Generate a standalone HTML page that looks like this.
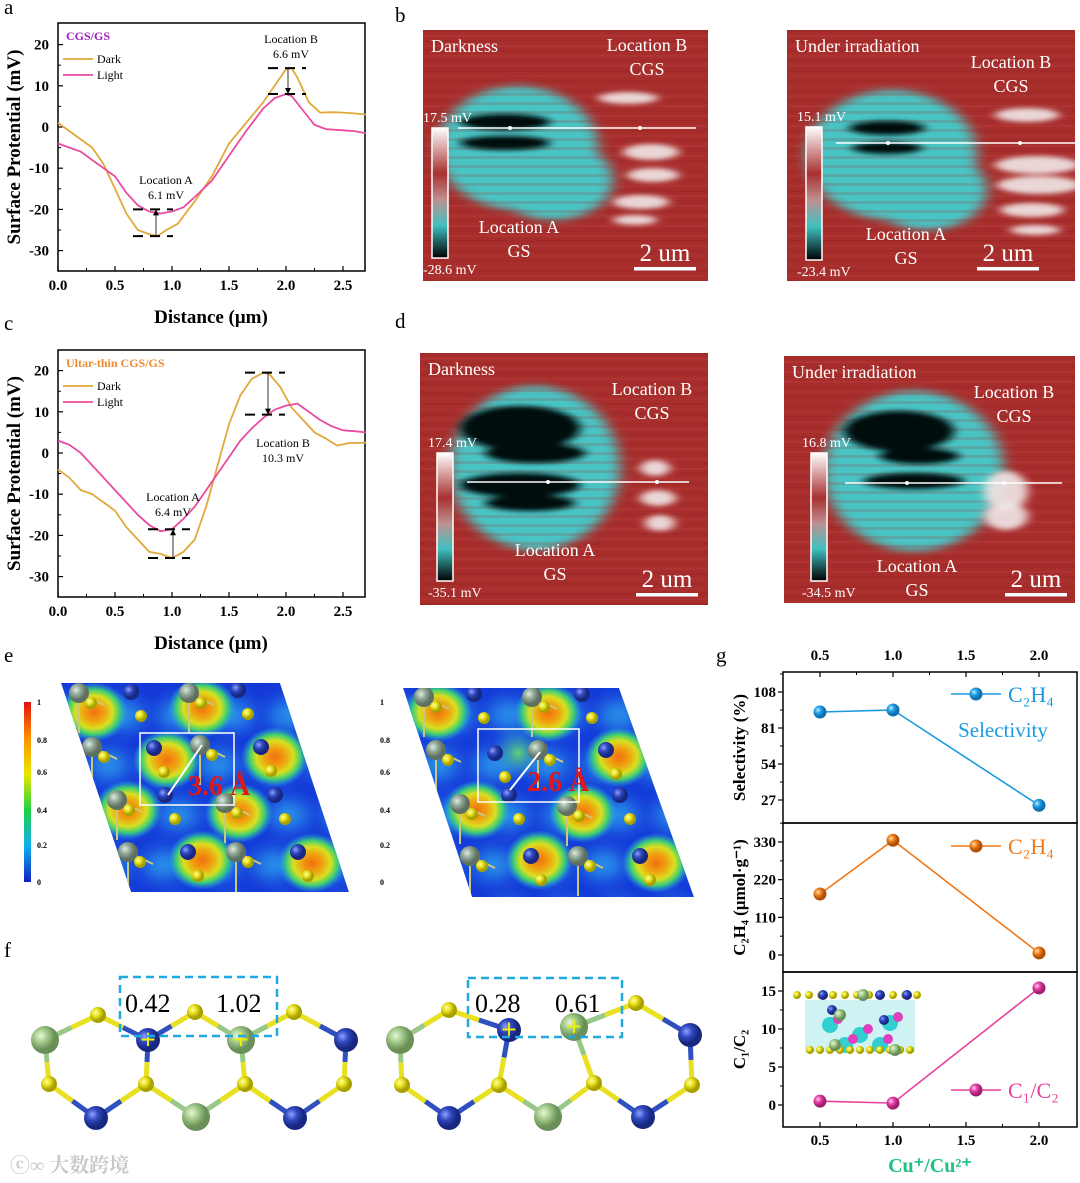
<!DOCTYPE html>
<html><head><meta charset="utf-8">
<style>
html,body{margin:0;padding:0;background:#fff;}
svg{display:block;}
text{font-family:"Liberation Serif","Noto Serif CJK SC",serif;}
</style></head>
<body>
<svg id="fig" width="1080" height="1183" viewBox="0 0 1080 1183" xmlns="http://www.w3.org/2000/svg">
<defs>
  <filter id="blur6" x="-30%" y="-30%" width="160%" height="160%"><feGaussianBlur stdDeviation="7 4"/></filter>
  <filter id="blur3" x="-30%" y="-30%" width="160%" height="160%"><feGaussianBlur stdDeviation="5 2.5"/></filter>
  <filter id="blurE" x="-50%" y="-50%" width="200%" height="200%"><feGaussianBlur stdDeviation="9"/></filter>
  <linearGradient id="afmBar" x1="0" y1="0" x2="0" y2="1">
    <stop offset="0" stop-color="#ffffff"/><stop offset="0.35" stop-color="#a83030"/>
    <stop offset="0.55" stop-color="#c09090"/><stop offset="0.75" stop-color="#40c0c0"/>
    <stop offset="1" stop-color="#000000"/>
  </linearGradient>
  <linearGradient id="jetBar" x1="0" y1="0" x2="0" y2="1">
    <stop offset="0" stop-color="#e01010"/><stop offset="0.2" stop-color="#ff9000"/>
    <stop offset="0.4" stop-color="#e8e800"/><stop offset="0.6" stop-color="#20d040"/>
    <stop offset="0.8" stop-color="#10b0f0"/><stop offset="1" stop-color="#1020c0"/>
  </linearGradient>
  <radialGradient id="hot"><stop offset="0" stop-color="#f07010"/><stop offset="0.3" stop-color="#f0a010"/>
    <stop offset="0.55" stop-color="#d8e020"/><stop offset="0.75" stop-color="#40d070"/>
    <stop offset="1" stop-color="#20a0f0" stop-opacity="0"/></radialGradient>
  <radialGradient id="warm"><stop offset="0" stop-color="#60d070"/><stop offset="1" stop-color="#20a0f0" stop-opacity="0"/></radialGradient>
  <radialGradient id="ballB" cx="0.35" cy="0.35"><stop offset="0" stop-color="#8ea0ff"/><stop offset="0.5" stop-color="#3048c0"/><stop offset="1" stop-color="#182880"/></radialGradient>
  <radialGradient id="ballG" cx="0.35" cy="0.35"><stop offset="0" stop-color="#e8f8d8"/><stop offset="0.5" stop-color="#a0c888"/><stop offset="1" stop-color="#6a9058"/></radialGradient>
  <radialGradient id="ballGr" cx="0.35" cy="0.35"><stop offset="0" stop-color="#e0ece0"/><stop offset="0.5" stop-color="#90a898"/><stop offset="1" stop-color="#607060"/></radialGradient>
  <radialGradient id="ballY" cx="0.35" cy="0.35"><stop offset="0" stop-color="#ffffa0"/><stop offset="0.5" stop-color="#e8e020"/><stop offset="1" stop-color="#a8a000"/></radialGradient>
  <radialGradient id="mkBlue" cx="0.35" cy="0.35"><stop offset="0" stop-color="#c8ecff"/><stop offset="0.5" stop-color="#20a0e8"/><stop offset="1" stop-color="#1070b0"/></radialGradient>
  <radialGradient id="mkOrange" cx="0.35" cy="0.35"><stop offset="0" stop-color="#ffe0b0"/><stop offset="0.5" stop-color="#f08018"/><stop offset="1" stop-color="#b05008"/></radialGradient>
  <radialGradient id="mkPink" cx="0.35" cy="0.35"><stop offset="0" stop-color="#ffd0f0"/><stop offset="0.5" stop-color="#e840a8"/><stop offset="1" stop-color="#a02070"/></radialGradient>
</defs>
<g id="root"></g>
</svg>
<script>
// ===== Panel a / c data (Distance µm, Surface potential mV) =====
const aDarkX  = [0,0.1,0.2,0.3,0.4,0.5,0.6,0.7,0.8,0.87,0.95,1.05,1.2,1.35,1.5,1.65,1.8,1.9,2.0,2.05,2.1,2.2,2.3,2.4,2.5,2.6,2.7];
const aDarkY  = [1,-1,-3,-5,-9,-15,-21,-25,-26,-26.5,-25,-23.5,-18,-12,-4,1,6,10,14,14.3,12,6,3.5,3.6,3.5,3.3,3];
const aLightX = [0,0.1,0.2,0.3,0.4,0.5,0.6,0.7,0.8,0.9,1.0,1.1,1.2,1.35,1.5,1.65,1.8,1.9,2.0,2.05,2.15,2.25,2.35,2.5,2.6,2.7];
const aLightY = [-4,-5,-6,-8,-10,-12,-16,-19,-20.5,-21,-20.5,-19.5,-17,-13,-7,-1,4.5,7,8,7.5,4,0.5,-0.5,-0.8,-1,-1.5];
const cDarkX  = [0,0.1,0.2,0.3,0.4,0.5,0.6,0.7,0.8,0.9,1.0,1.1,1.2,1.3,1.4,1.5,1.6,1.7,1.8,1.85,1.95,2.05,2.15,2.25,2.35,2.45,2.55,2.7];
const cDarkY  = [-4,-6,-9,-10,-12,-14,-18,-21,-24,-24.5,-25.5,-24,-21,-13,-3,7,14,18,19.5,19.3,16,11,8,5,3.5,1.8,2.4,2.5];
const cLightX = [0,0.1,0.2,0.3,0.4,0.5,0.6,0.7,0.8,0.9,1.0,1.1,1.2,1.3,1.4,1.5,1.6,1.7,1.8,1.9,2.0,2.1,2.2,2.3,2.4,2.5,2.6,2.7];
const cLightY = [3,2,0,-3,-6,-9,-12,-15,-17.5,-19,-18.5,-16,-13,-9,-5,-1,3,6,8.5,10.5,11.5,12,10,8,6.5,5.5,5.3,5];
const xTicksAC = [0.0,0.5,1.0,1.5,2.0,2.5];
const yTicksAC = [20,10,0,-10,-20,-30];
// ===== Panel g data =====
const gRatio = [0.5,1.0,2.0];
const gSelectivity = [93,94.5,23];
const gYield = [178,335,6];
const gC1C2 = [0.5,0.25,15.4];
const gXTicks = [0.5,1.0,1.5,2.0];
const gSelTicks = [27,54,81,108];
const gYieldTicks = [0,110,220,330];
const gC1Ticks = [0,5,10,15];

const NS="http://www.w3.org/2000/svg";
const root=document.getElementById('root');
function el(tag,attrs,parent,txt){const e=document.createElementNS(NS,tag);for(const k in attrs)e.setAttribute(k,attrs[k]);if(txt!==undefined)e.textContent=txt;(parent||root).appendChild(e);return e;}
function grp(name,parent){const g=el('g',{},parent);return g;}
function txt(parent,x,y,s,size,opts){opts=opts||{};const t=el('text',{x:x,y:y,'font-size':size,fill:opts.fill||'#000','text-anchor':opts.anchor||'start','font-weight':opts.bold?'bold':'normal'},parent,s);if(opts.transform)t.setAttribute('transform',opts.transform);return t;}

// panel letters
[['a',4,14],['b',395,22],['c',4,330],['d',395,328],['e',4,662],['f',4,957],['g',716,662]].forEach(p=>{
  const t=txt(root,p[1],p[2],p[0],21);
  
  
});

// ===== line charts a and c =====
function lineChart(name,top,bottom,zeroY,series,legendTitle,legendColor,ann){
  const g=grp(name);
  const L=58,R=365;
  const xs=v=>L+v*114;
  const ys=v=>zeroY-v*4.12;
  el('rect',{x:L,y:top,width:R-L,height:bottom-top,fill:'none',stroke:'#000','stroke-width':1.5},g);
  xTicksAC.forEach(v=>{el('line',{x1:xs(v),y1:bottom,x2:xs(v),y2:bottom-5,stroke:'#000','stroke-width':1.2},g);
    txt(g,xs(v),bottom+19,v.toFixed(1),15,{anchor:'middle',bold:true});});
  [0.25,0.75,1.25,1.75,2.25].forEach(v=>el('line',{x1:xs(v),y1:bottom,x2:xs(v),y2:bottom-3,stroke:'#000'},g));
  yTicksAC.forEach(v=>{el('line',{x1:L,y1:ys(v),x2:L+5,y2:ys(v),stroke:'#000','stroke-width':1.2},g);
    txt(g,49,ys(v)+5,String(v),15,{anchor:'end',bold:true});});
  [15,5,-5,-15,-25].forEach(v=>el('line',{x1:L,y1:ys(v),x2:L+3,y2:ys(v),stroke:'#000'},g));
  const yt=txt(g,20,(top+bottom)/2,'Surface Protential (mV)',19,{anchor:'middle',bold:true,transform:`rotate(-90 20 ${(top+bottom)/2})`});
  
  const xt=txt(g,211,bottom+52,'Distance (μm)',19,{anchor:'middle',bold:true});
  
  series.forEach(s=>{
    const d=s.x.map((v,i)=>(i?'L':'M')+xs(v).toFixed(1)+' '+ys(s.y[i]).toFixed(1)).join(' ');
    const p=el('path',{d:d,fill:'none',stroke:s.color,'stroke-width':1.8,'stroke-linejoin':'round'},g);
    
  });
  txt(g,L+8,top+17,legendTitle,12,{bold:true,fill:legendColor});
  series.forEach((s,i)=>{const yy=top+36+i*16;
    el('line',{x1:L+5,y1:yy,x2:L+35,y2:yy,stroke:s.color,'stroke-width':1.8},g);
    txt(g,L+39,yy+4,s.label,12);});
  ann.forEach(a=>{
    [a.v1,a.v2].forEach(v=>el('line',{x1:a.x1,y1:ys(v),x2:a.x2,y2:ys(v),stroke:'#000','stroke-width':2,'stroke-dasharray':'10 7'},g));
    el('line',{x1:a.ax,y1:ys(a.from),x2:a.ax,y2:ys(a.to),stroke:'#000','stroke-width':0.8},g);
    const dir=ys(a.to)>ys(a.from)?-1:1;
    el('path',{d:`M${a.ax-3} ${ys(a.to)+dir*6} L${a.ax} ${ys(a.to)} L${a.ax+3} ${ys(a.to)+dir*6}Z`,fill:'#000'},g);
    txt(g,a.tx,a.ty,a.t1,12,{anchor:'middle'});txt(g,a.tx,a.ty+15,a.t2,12,{anchor:'middle'});
  });
}
lineChart('chart-a',23,271,127,[
  {x:aDarkX,y:aDarkY,color:'#e2a83a',label:'Dark',name:'dark-line'},
  {x:aLightX,y:aLightY,color:'#ea4aa0',label:'Light',name:'light-line'}],'CGS/GS','#a020c0',
  [{v1:-20,v2:-26.5,x1:133,x2:173,ax:156,from:-26.5,to:-20,tx:166,ty:184,t1:'Location A',t2:'6.1 mV'},
   {v1:14.3,v2:8,x1:268,x2:306,ax:288,from:14.3,to:8,tx:291,ty:43,t1:'Location B',t2:'6.6 mV'}]);
lineChart('chart-c',350,597,453,[
  {x:cDarkX,y:cDarkY,color:'#e2a83a',label:'Dark',name:'dark-line'},
  {x:cLightX,y:cLightY,color:'#ea4aa0',label:'Light',name:'light-line'}],'Ultar-thin CGS/GS','#f08a30',
  [{v1:-18.5,v2:-25.5,x1:148,x2:190,ax:173,from:-25.5,to:-18.5,tx:173,ty:501,t1:'Location A',t2:'6.4 mV'},
   {v1:19.5,v2:9.3,x1:245,x2:285,ax:268,from:19.5,to:9.3,tx:283,ty:447,t1:'Location B',t2:'10.3 mV'}]);

// ===== AFM images =====
let clipId=0;
function afm(name,o){
  const g=grp(name);
  const id='clip'+(clipId++);
  const cp=el('clipPath',{id:id},g);el('rect',{x:o.x,y:o.y,width:o.w,height:o.h},cp);
  const inner=el('g',{'clip-path':`url(#${id})`},g);
  el('rect',{x:o.x,y:o.y,width:o.w,height:o.h,fill:'#a82e2c'},inner);
  for(let i=0;i<o.h;i+=5){el('rect',{x:o.x,y:o.y+i,width:o.w,height:2,fill:(i%10?'#b84040':'#982626'),opacity:0.35},inner);}
  const b=el('g',{filter:'url(#blur6)'},inner);
  o.cyan.forEach(c=>el('ellipse',{cx:o.x+c[0],cy:o.y+c[1],rx:c[2],ry:c[3],fill:'#48c4c4'},b));
  for(let i=0;i<o.h;i+=9){el('rect',{x:o.x,y:o.y+i,width:o.w,height:3,fill:'#a82e2c',opacity:0.18},inner);}
  const d=el('g',{filter:'url(#blur3)'},inner);
  o.dark.forEach(c=>el('ellipse',{cx:o.x+c[0],cy:o.y+c[1],rx:c[2],ry:c[3],fill:'#061010'},d));
  o.white.forEach(c=>el('ellipse',{cx:o.x+c[0],cy:o.y+c[1],rx:c[2],ry:c[3],fill:'#f0e4e4',opacity:0.92},d));
  el('line',{x1:o.lx1,y1:o.ly,x2:o.lx2,y2:o.ly,stroke:'#fff','stroke-width':1.6},g);
  o.dots.forEach(x=>el('circle',{cx:x,cy:o.ly,r:2,fill:'#fff'},g));
  el('rect',{x:o.cb[0],y:o.cb[1],width:16,height:o.cb[2],fill:'url(#afmBar)',stroke:'#fff','stroke-width':1.5},g);
  txt(g,o.cb[0]-9,o.cb[1]-6,o.top,14,{fill:'#fff'});
  txt(g,o.cb[0]-9,o.cb[1]+o.cb[2]+16,o.bot,14,{fill:'#fff'});
  txt(g,o.x+8,o.y+22,o.title,18,{fill:'#fff'});
  txt(g,o.bx,o.by,'Location B',18,{fill:'#fff',anchor:'middle'});
  txt(g,o.bx,o.by+24,'CGS',18,{fill:'#fff',anchor:'middle'});
  txt(g,o.ax,o.ay,'Location A',18,{fill:'#fff',anchor:'middle'});
  txt(g,o.ax,o.ay+24,'GS',18,{fill:'#fff',anchor:'middle'});
  txt(g,o.sx+31,o.sy-6,'2 um',25,{fill:'#fff',anchor:'middle'});
  el('rect',{x:o.sx,y:o.sy,width:62,height:3.5,fill:'#fff'},g);
}
afm('afm-b-dark',{x:423,y:30,w:285,h:251,title:'Darkness',
  cyan:[[95,118,80,62],[130,150,60,40]],dark:[[82,92,45,8],[82,113,45,7]],
  white:[[205,68,30,6],[228,122,28,8],[230,145,26,7],[218,172,28,7],[212,190,22,5]],
  lx1:458,lx2:696,ly:128,dots:[510,640],cb:[432,128,130],top:'17.5 mV',bot:'-28.6 mV',
  bx:647,by:51,ax:519,ay:233,sx:634,sy:267});
afm('afm-b-light',{x:787,y:30,w:288,h:251,title:'Under irradiation',
  cyan:[[105,125,85,65],[140,160,60,40]],dark:[[100,98,38,7],[100,118,35,6]],
  white:[[240,85,32,7],[250,135,42,9],[252,155,42,9],[245,180,32,7],[248,200,25,5]],
  lx1:836,lx2:1075,ly:143,dots:[888,1020],cb:[806,127,133],top:'15.1 mV',bot:'-23.4 mV',
  bx:1011,by:68,ax:906,ay:240,sx:977,sy:267});
afm('afm-d-dark',{x:420,y:353,w:288,h:252,title:'Darkness',
  cyan:[[115,115,85,82]],dark:[[100,75,60,22],[115,100,50,10],[100,132,60,12],[110,150,45,8]],
  white:[[235,115,15,8],[238,145,18,8],[240,170,15,8]],
  lx1:467,lx2:689,ly:482,dots:[548,657],cb:[437,453,128],top:'17.4 mV',bot:'-35.1 mV',
  bx:652,by:395,ax:555,ay:556,sx:636,sy:593});
afm('afm-d-light',{x:784,y:356,w:291,h:247,title:'Under irradiation',
  cyan:[[130,115,90,80]],dark:[[115,75,55,20],[135,100,40,8],[130,125,50,8]],
  white:[[222,135,22,20],[222,160,22,14]],
  lx1:845,lx2:1062,ly:483,dots:[907,1004],cb:[811,453,128],top:'16.8 mV',bot:'-34.5 mV',
  bx:1014,by:398,ax:917,ay:572,sx:1005,sy:593});

// ===== Panel e maps =====
function emap(name,P,hot,warm,gray,blue,box,label,lx){
  const g=grp(name);
  const id='clip'+(clipId++);
  const pts=P.map(p=>p.join(',')).join(' ');
  const cp=el('clipPath',{id:id},g);el('polygon',{points:pts},cp);
  const inner=el('g',{'clip-path':`url(#${id})`},g);
  el('polygon',{points:pts,fill:'#1438d8'},inner);
  const lb=el('g',{filter:'url(#blurE)'},inner);
  for(let yy=695;yy<900;yy+=50) for(let xx=40;xx<720;xx+=55) el('ellipse',{cx:xx+(yy%100)*0.3,cy:yy+20,rx:20,ry:14,fill:'#30b0f0',opacity:0.8},lb);
  warm.forEach(c=>el('circle',{cx:c[0],cy:c[1],r:28,fill:'url(#warm)'},inner));
  hot.forEach(c=>el('ellipse',{cx:c[0],cy:c[1],rx:34,ry:30,fill:'url(#hot)'},inner));
  gray.forEach(c=>{el('line',{x1:c[0],y1:c[1],x2:c[0]+25,y2:c[1]+12,stroke:'#c8c880','stroke-width':2},inner);
    el('line',{x1:c[0],y1:c[1],x2:c[0],y2:c[1]+40,stroke:'#c8c880','stroke-width':2},inner);});
  gray.forEach(c=>{el('circle',{cx:c[0],cy:c[1],r:10,fill:'url(#ballGr)'},inner);
    el('circle',{cx:c[0]+12,cy:c[1]+10,r:6,fill:'url(#ballY)'},inner);});
  blue.forEach(c=>{el('circle',{cx:c[0],cy:c[1],r:8,fill:'url(#ballB)'},inner);
    el('circle',{cx:c[0]+10,cy:c[1]+24,r:6,fill:'url(#ballY)'},inner);});
  el('rect',{x:box[0],y:box[1],width:box[2],height:box[3],fill:'none',stroke:'#fff','stroke-width':1.5},g);
  el('line',{x1:box[4],y1:box[5],x2:box[6],y2:box[7],stroke:'#fff','stroke-width':2},g);
  txt(g,lx,box[1]+62,label,28,{bold:true,fill:'#e01818'});
}
emap('elf-map-left',[[61,683],[280,683],[349,892],[131,892]],
  [[94,712],[202,708],[167,760],[275,757],[128,810],[239,813],[202,860],[312,863]],[],
  [[79,693],[189,693],[92,747],[200,745],[117,800],[225,803],[128,852],[236,852]],
  [[131,692],[238,690],[154,748],[261,747],[165,795],[275,795],[188,852],[298,852]],
  [140,733,94,72,168,795,202,745],'3.6 Å',188);
emap('elf-map-right',[[403,688],[619,688],[694,897],[472,897]],
  [[438,712],[548,713],[619,757],[477,810],[583,813],[539,860],[656,863]],[[518,753]],
  [[424,697],[532,697],[436,750],[538,750],[460,804],[567,806],[470,856],[578,856]],
  [[474,694],[582,694],[495,753],[606,750],[509,795],[620,795],[531,856],[640,856]],
  [478,729,101,73,510,790,540,752],'2.6 Å',527);
(function(){
  const g=grp('elf-colorbar');
  el('rect',{x:24,y:702,width:7,height:180,fill:'url(#jetBar)'},g);
  const lab=['1','0.8','0.6','0.4','0.2','0'];const yy=[702,740,772,810,845,882];
  lab.forEach((s,i)=>{txt(g,37,yy[i]+3,s,8,{bold:true});txt(g,380,yy[i]+3,s,8,{bold:true});});
})();

// ===== Panel f structures =====
function struct(name,atoms,bonds,box,labels){
  const g=grp(name);
  bonds.forEach(b=>{const a=atoms[b[0]],c=atoms[b[1]];const mx=(a[0]+c[0])/2,my=(a[1]+c[1])/2;
    const col=t=>t==='y'?'#e8e020':t==='b'?'#3050c0':'#98c888';
    el('line',{x1:a[0],y1:a[1],x2:mx,y2:my,stroke:col(a[2]),'stroke-width':5},g);
    el('line',{x1:mx,y1:my,x2:c[0],y2:c[1],stroke:col(c[2]),'stroke-width':5},g);});
  atoms.forEach(a=>{const r=a[2]==='y'?8:a[2]==='b'?12:14;const f=a[2]==='y'?'url(#ballY)':a[2]==='b'?'url(#ballB)':'url(#ballG)';
    el('circle',{cx:a[0],cy:a[1],r:r,fill:f},g);
    if(a[3]){txt(g,a[0],a[1]+9,'+',28,{anchor:'middle',bold:true,fill:'#f0f000'});}});
  el('rect',{x:box[0],y:box[1],width:box[2],height:box[3],fill:'none',stroke:'#20a8e0','stroke-width':2.5,'stroke-dasharray':'8 5'},g);
  labels.forEach(l=>txt(g,l[0],l[1],l[2],26));
}
struct('structure-left',
  [[45,1040,'g'],[98,1015,'y'],[148,1040,'b',1],[195,1012,'y'],[241,1040,'g',1],[294,1012,'y'],[346,1040,'b'],
   [49,1084,'y'],[146,1084,'y'],[245,1084,'y'],[344,1084,'y'],[96,1118,'b'],[196,1117,'g'],[295,1118,'b']],
  [[0,1],[1,2],[2,3],[3,4],[4,5],[5,6],[0,7],[2,8],[4,9],[6,10],[7,11],[11,8],[8,12],[12,9],[9,13],[13,10]],
  [120,977,157,59],[[125,1012,'0.42'],[216,1012,'1.02']]);
struct('structure-right',
  [[400,1040,'g'],[449,1010,'y'],[509,1030,'b',1],[574,1027,'g',1],[636,1003,'y'],[690,1035,'b'],
   [402,1085,'y'],[499,1085,'y'],[594,1083,'y'],[692,1085,'y'],[449,1118,'b'],[548,1117,'g'],[643,1117,'b']],
  [[0,1],[1,2],[3,4],[4,5],[0,6],[2,7],[3,8],[5,9],[6,10],[10,7],[7,11],[11,8],[8,12],[12,9]],
  [468,978,154,59],[[475,1012,'0.28'],[555,1012,'0.61']]);

(function(){const g=grp('watermark');txt(g,10,1172,'ⓒ∞ 大数跨境',20,{fill:'#c8c8c8',bold:true});})();

// ===== Panel g =====
(function(){
  const g=grp('chart-g');
  const L=783,R=1077;
  const xs=v=>820+(v-0.5)*146;
  const panels=[
    {top:672,bot:823,min:9.75,max:123,vals:gSelectivity,ticks:gSelTicks,color:'#1a9ae0',mk:'url(#mkBlue)',title:'Selectivity (%)',name:'selectivity'},
    {top:823,bot:972,min:-49.6,max:385.5,vals:gYield,ticks:gYieldTicks,color:'#f07818',mk:'url(#mkOrange)',title:'C₂H₄ (μmol·g⁻¹)',name:'yield'},
    {top:972,bot:1127,min:-2.9,max:17.5,vals:gC1C2,ticks:gC1Ticks,color:'#e8409a',mk:'url(#mkPink)',title:'C₁/C₂',name:'c1c2'}];
  panels.forEach((p,pi)=>{
    const ys=v=>p.bot-(v-p.min)/(p.max-p.min)*(p.bot-p.top);
    el('rect',{x:L,y:p.top,width:R-L,height:p.bot-p.top,fill:'none',stroke:'#000','stroke-width':1.5},g);
    p.ticks.forEach(v=>{el('line',{x1:L,y1:ys(v),x2:L-5,y2:ys(v),stroke:'#000','stroke-width':1.2},g);
      txt(g,776,ys(v)+5,String(v),15,{anchor:'end',bold:true});});
    for(let i=0;i<p.ticks.length;i++){const h=p.ticks[i]+(p.ticks[1]-p.ticks[0])/2;if(ys(h)>p.top)el('line',{x1:L,y1:ys(h),x2:L-3,y2:ys(h),stroke:'#000'},g);}
    const cy=(p.top+p.bot)/2;
    const t=txt(g,745,cy,p.title,17,{anchor:'middle',bold:true,transform:`rotate(-90 745 ${cy})`});
    
    const d=gRatio.map((v,i)=>(i?'L':'M')+xs(v)+' '+ys(p.vals[i])).join(' ');
    const line=el('path',{d:d,fill:'none',stroke:p.color,'stroke-width':1.6},g);
    
    gRatio.forEach((v,i)=>{const c=el('circle',{cx:xs(v),cy:ys(p.vals[i]),r:6.5,fill:p.mk},g);
      });
    if(pi===2){
      const ins=grp('inset-structure',g);
      el('rect',{x:805,y:1000,width:110,height:52,fill:'#40d0d0',opacity:0.25},ins);
      [[830,1025],[860,1035],[890,1023],[845,1045],[880,1045]].forEach(c=>{el('circle',{cx:c[0],cy:c[1],r:8,fill:'#30d0d0'},ins);el('circle',{cx:c[0]+8,cy:c[1]-6,r:5,fill:'#e040c0'},ins);});
      for(let k=0;k<11;k++){el('circle',{cx:797+k*12,cy:995,r:4,fill:'url(#ballY)'},ins);el('circle',{cx:810+k*10,cy:1050,r:4,fill:'url(#ballY)'},ins);}
      [[823,995],[880,995],[907,995],[832,1010],[884,1020]].forEach(c=>el('circle',{cx:c[0],cy:c[1],r:5,fill:'url(#ballB)'},ins));
      [[863,995],[840,1015],[835,1045],[895,1050]].forEach(c=>el('circle',{cx:c[0],cy:c[1],r:6,fill:'url(#ballG)'},ins));
    }
  });
  gXTicks.forEach(v=>{
    el('line',{x1:xs(v),y1:672,x2:xs(v),y2:677,stroke:'#000','stroke-width':1.2},g);
    el('line',{x1:xs(v),y1:1127,x2:xs(v),y2:1122,stroke:'#000','stroke-width':1.2},g);
    txt(g,xs(v),660,v.toFixed(1),15,{anchor:'middle',bold:true});
    txt(g,xs(v),1145,v.toFixed(1),15,{anchor:'middle',bold:true});});
  [0.75,1.25,1.75].forEach(v=>{el('line',{x1:xs(v),y1:672,x2:xs(v),y2:675,stroke:'#000'},g);el('line',{x1:xs(v),y1:1127,x2:xs(v),y2:1124,stroke:'#000'},g);});
  const legs=[[694,'#1a9ae0','url(#mkBlue)','C₂H₄'],[846,'#f07818','url(#mkOrange)','C₂H₄'],[1090,'#e8409a','url(#mkPink)','C₁/C₂']];
  legs.forEach(l=>{el('line',{x1:951,y1:l[0],x2:1001,y2:l[0],stroke:l[1],'stroke-width':1.6},g);
    el('circle',{cx:976,cy:l[0],r:6.5,fill:l[2]},g);
    txt(g,1008,l[0]+8,l[3],22,{fill:l[1]});});
  txt(g,1003,737,'Selectivity',21,{anchor:'middle',fill:'#1a9ae0'});
  const xt=txt(g,930,1172,'Cu⁺/Cu²⁺',20,{anchor:'middle',bold:true,fill:'#20c080'});
  
})();
</script>
</body></html>
